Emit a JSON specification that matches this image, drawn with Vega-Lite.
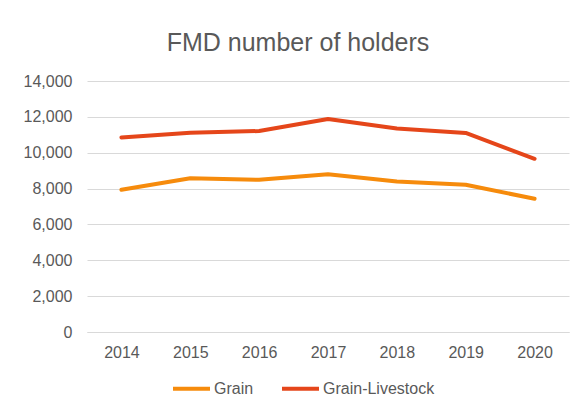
{
  "$schema": "https://vega.github.io/schema/vega-lite/v6.json",
  "autosize": {"type": "none"},
  "padding": {"left": 87, "top": 81, "right": 10, "bottom": 76},
  "width": 482,
  "height": 251,
  "background": "white",
  "title": {
    "text": "FMD number of holders",
    "font": "Liberation Sans",
    "fontSize": 25,
    "fontWeight": "normal",
    "color": "#595959",
    "anchor": "middle",
    "frame": "group",
    "dx": -30,
    "offset": 17
  },
  "data": {
    "values": [
      {"year": "2014", "series": "Grain", "holders": 7930},
      {"year": "2015", "series": "Grain", "holders": 8580},
      {"year": "2016", "series": "Grain", "holders": 8490},
      {"year": "2017", "series": "Grain", "holders": 8800},
      {"year": "2018", "series": "Grain", "holders": 8400},
      {"year": "2019", "series": "Grain", "holders": 8210},
      {"year": "2020", "series": "Grain", "holders": 7430},
      {"year": "2014", "series": "Grain-Livestock", "holders": 10850},
      {"year": "2015", "series": "Grain-Livestock", "holders": 11120},
      {"year": "2016", "series": "Grain-Livestock", "holders": 11210},
      {"year": "2017", "series": "Grain-Livestock", "holders": 11880},
      {"year": "2018", "series": "Grain-Livestock", "holders": 11350},
      {"year": "2019", "series": "Grain-Livestock", "holders": 11100},
      {"year": "2020", "series": "Grain-Livestock", "holders": 9660}
    ]
  },
  "mark": {"type": "line", "strokeWidth": 4, "strokeCap": "round", "strokeJoin": "round"},
  "encoding": {
    "x": {
      "field": "year",
      "type": "ordinal",
      "scale": {"type": "point", "padding": 0.5},
      "axis": {
        "title": null,
        "labelAngle": 0,
        "ticks": false,
        "domain": true,
        "domainColor": "#D9D9D9",
        "domainWidth": 1,
        "grid": false,
        "labelPadding": 12,
        "labelFontSize": 16,
        "labelFont": "Liberation Sans",
        "labelColor": "#595959"
      }
    },
    "y": {
      "field": "holders",
      "type": "quantitative",
      "scale": {"domain": [0, 14000]},
      "axis": {
        "title": null,
        "values": [0, 2000, 4000, 6000, 8000, 10000, 12000, 14000],
        "format": ",d",
        "ticks": false,
        "domain": false,
        "grid": true,
        "gridColor": "#D9D9D9",
        "gridWidth": 1,
        "labelPadding": 15,
        "labelFontSize": 16,
        "labelFont": "Liberation Sans",
        "labelColor": "#595959"
      }
    },
    "color": {
      "field": "series",
      "type": "nominal",
      "scale": {"domain": ["Grain", "Grain-Livestock"], "range": ["#F68B0C", "#E5461A"]},
      "legend": {
        "title": null,
        "orient": "none",
        "direction": "horizontal",
        "legendX": 84,
        "legendY": 287,
        "symbolType": "stroke",
        "symbolSize": 1369,
        "symbolStrokeWidth": 4,
        "labelFontSize": 16,
        "labelFont": "Liberation Sans",
        "labelColor": "#595959",
        "labelOffset": 2,
        "columnPadding": 20
      }
    }
  },
  "config": {
    "view": {"stroke": null}
  }
}
